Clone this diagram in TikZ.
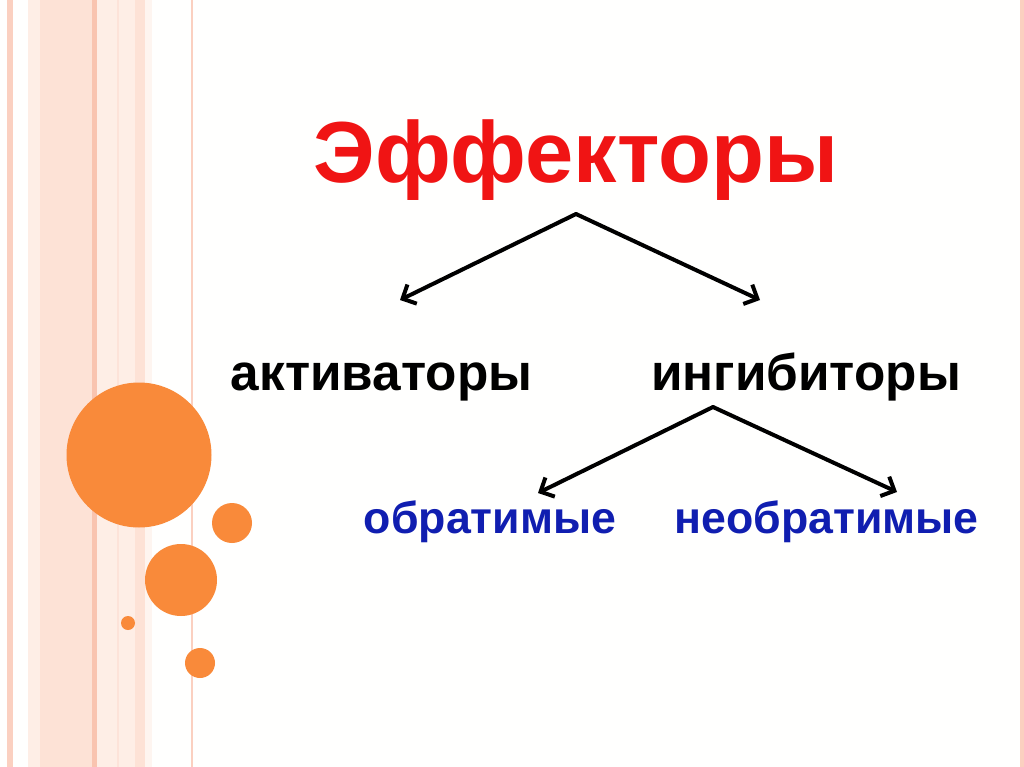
\documentclass[tikz,border=0pt]{standalone}
\usepackage{fontspec}
\setmainfont{Liberation Sans}
\usetikzlibrary{arrows.meta}
\definecolor{stripeA}{RGB}{251,208,192}
\definecolor{stripeB}{RGB}{253,226,214}
\definecolor{stripeC}{RGB}{249,196,176}
\definecolor{stripeD}{RGB}{254,238,230}
\definecolor{dotor}{RGB}{249,138,58}
\definecolor{titlered}{RGB}{240,20,20}
\definecolor{bluetext}{RGB}{16,30,176}
\tikzset{
  dot/.style={fill=dotor, draw=none},
  conn/.style={line width=3pt, -{Straight Barb[length=8pt,width=16pt,line width=3pt]}, line cap=round, line join=miter},
  lvl/.style={font=\bfseries\fontsize{38.5}{44}\selectfont, text=black, inner sep=0pt, anchor=base},
  sub/.style={font=\bfseries\fontsize{33.5}{38}\selectfont, text=bluetext, inner sep=0pt, anchor=base},
}
\begin{document}
\begin{tikzpicture}[x=0.75pt,y=-0.75pt]
\useasboundingbox (0,0) rectangle (1024,767);
\fill[white!98!stripeD] (0,0) rectangle (1024,767);
% left stripes
\fill[stripeA] (7,0) rectangle (13,767);
\fill[stripeD] (28,0) rectangle (40,767);
\fill[stripeB] (40,0) rectangle (92,767);
\fill[stripeC] (92,0) rectangle (97,767);
\fill[stripeD] (97,0) rectangle (135,767);
\fill[stripeA!60] (117,0) rectangle (118.5,767);
\fill[stripeB] (135,0) rectangle (145,767);
\fill[stripeD!60] (145,0) rectangle (152,767);
\fill[stripeA] (191,0) rectangle (193,767);
\fill[stripeA] (1020,0) rectangle (1024,767);
% circles
\fill[dot] (139,455) circle (72.5);
\fill[dot] (232,523) circle (20);
\fill[dot] (181,580) circle (36);
\fill[dot] (128,623) circle (7);
\fill[dot] (200,663) circle (15);
% texts
\node[font=\bfseries\fontsize{65}{72}\selectfont, text=titlered, inner sep=0pt, anchor=base] (title) at (576,182) {Эффекторы};
\node[lvl] (act) at (381.5,390) {активаторы};
\node[lvl] (inh) at (806,390) {ингибиторы};
\node[sub] (rev) at (490,533) {обратимые};
\node[sub] (irr) at (826.5,533) {необратимые};
% connectors
\coordinate (t1) at (576,214);
\coordinate (a1) at (400,300);
\coordinate (b1) at (760,300);
\coordinate (t2) at (713,407);
\coordinate (a2) at (538,493);
\coordinate (b2) at (897,492);
\draw[conn] (t1) -- (a1);
\draw[conn] (t1) -- (b1);
\draw[conn] (t2) -- (a2);
\draw[conn] (t2) -- (b2);
\end{tikzpicture}
\end{document}
